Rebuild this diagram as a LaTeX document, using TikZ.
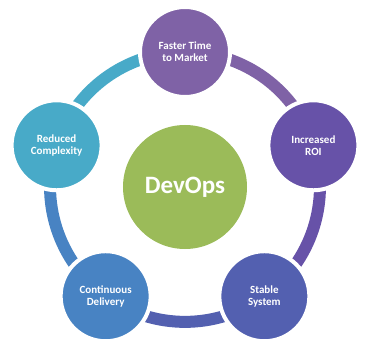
\documentclass[tikz,border=0pt]{standalone}
\usepackage{fontspec}
\setmainfont{Carlito}
\usetikzlibrary{positioning,backgrounds}
\definecolor{cverde}{HTML}{9BBB59}
\definecolor{cmorado}{HTML}{7F62A6}
\definecolor{cvioleta}{HTML}{6752A8}
\definecolor{cindigo}{HTML}{5360B0}
\definecolor{cazul}{HTML}{4883C3}
\definecolor{cceleste}{HTML}{48AAC8}
\tikzset{
  etapa/.style={circle,draw=white,line width=4pt,minimum size=90pt,inner sep=0pt,
                align=center,text=white,font=\fontsize{11}{12}\selectfont\bfseries},
  nucleo/.style={circle,fill=cverde,minimum size=124pt,inner sep=0pt,
                 text=white,font=\fontsize{25}{28}\selectfont\bfseries},
  anillo/.style={line width=12pt,bend left=36,looseness=0.94},
}

\begin{document}
\begin{tikzpicture}[x=1pt,y=1pt]
\useasboundingbox (-185,-166) rectangle (184,187);

\node[nucleo] (devops) at (0,0) {DevOps};
\node[etapa,fill=cmorado] (tiempo) at (90:135) {Faster Time\\to Market};
\node[etapa,fill=cvioleta] (roi) at (18:135) {Increased\\ROI};
\node[etapa,fill=cindigo] (estable) at (-54:135) {Stable\\System};
\node[etapa,fill=cazul] (entrega) at (234:135) {Continuous\\Delivery};
\node[etapa,fill=cceleste] (complej) at (162:135) {Reduced\\Complexity};

\begin{scope}[on background layer]
\draw[anillo,cmorado] (tiempo.center) to (roi.center);
\draw[anillo,cvioleta] (roi.center) to (estable.center);
\draw[anillo,cindigo] (estable.center) to (entrega.center);
\draw[anillo,cazul] (entrega.center) to (complej.center);
\draw[anillo,cceleste] (complej.center) to (tiempo.center);
\end{scope}

\end{tikzpicture}
\end{document}
